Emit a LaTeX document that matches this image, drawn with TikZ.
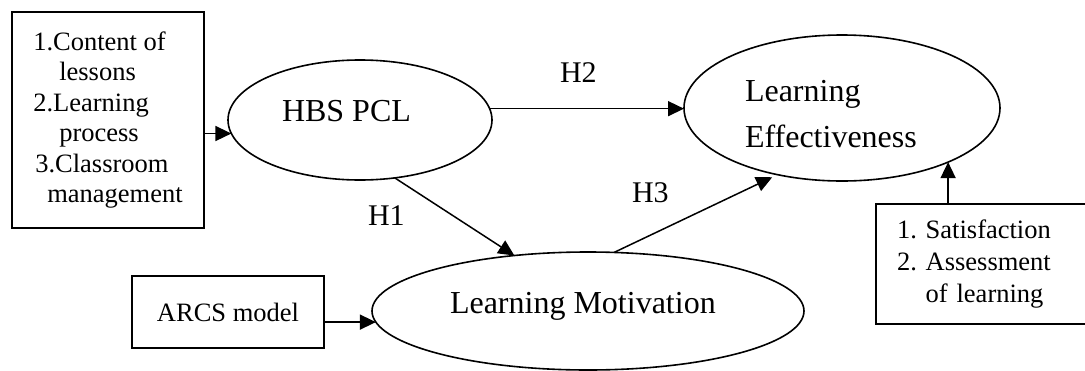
\documentclass[tikz,border=0pt]{standalone}
\usepackage{fontspec}
\setmainfont{Liberation Serif}
\usetikzlibrary{shapes.geometric,arrows.meta}
\frenchspacing
\begin{document}
\begin{tikzpicture}[x=1pt,y=-1pt,
  every node/.style={inner sep=0pt, outer sep=0pt},
  boxstyle/.style={draw, line width=1.7pt, rectangle},
  ellstyle/.style={draw, line width=1.6pt, ellipse},
  arr/.style={line width=1.5pt, -{Triangle[length=16pt,width=15pt]}},
  smalltext/.style={font=\fontsize{26.5}{30.4}\selectfont},
  bigtext/.style={font=\fontsize{32}{46}\selectfont},
  htext/.style={font=\fontsize{30}{34}\selectfont, anchor=base west}]
\useasboundingbox (0,0) rectangle (1085,370);
\clip (0,0) rectangle (1085,370);

% boxes
\node[boxstyle, smalltext, minimum width=192pt, minimum height=216pt, align=left] (lb) at (108,120)
  {1.Content of\\\hspace*{26pt}lessons\\2.Learning\\\hspace*{26pt}process\\\hspace*{2pt}3.Classroom\\\hspace*{14pt}management};
\node[boxstyle, smalltext, minimum width=192pt, minimum height=72pt] (arcs) at (228,312) {ARCS model};
\node[boxstyle, font=\fontsize{26.5}{32}\selectfont, text width=190pt, inner xsep=21pt, minimum height=120pt, align=left, anchor=north west] (rb) at (876,204)
  {1. Satisfaction\\2. Assessment\\\phantom{2. }of learning};

% ellipses
\node[ellstyle, minimum width=264pt, minimum height=120pt] (hbs) at (360,120) {};
\node[ellstyle, minimum width=316pt, minimum height=146pt] (le) at (842,108) {};
\node[ellstyle, minimum width=432pt, minimum height=118pt] (lm) at (588,311) {};

% ellipse texts
\node[bigtext, anchor=base west] (hbst) at (282,121) {HBS PCL};
\node[bigtext, anchor=west, align=left] (let) at (745,114.5) {Learning\\Effectiveness};
\node[bigtext, anchor=base west] (lmt) at (450,313) {Learning Motivation};

% hypothesis labels
\node[htext] (h2) at (560,82) {H2};
\node[htext] (h1) at (368,225) {H1};
\node[htext] (h3) at (632,202) {H3};

% connectors
\draw[arr] (lb.east |- hbs.186) -- (hbs.186);
\draw[arr] (hbs.5) -- (hbs.5 -| le.west);
\draw[arr] (hbs.301) -- (lm.143);
\draw[arr, shorten >=6pt] (lm.66) -- (le.226);
\draw[arr] (arcs.east |- lm.183.5) -- (lm.183.5);
\draw[arr] (rb.north -| le.333) -- (le.333);
\end{tikzpicture}
\end{document}
